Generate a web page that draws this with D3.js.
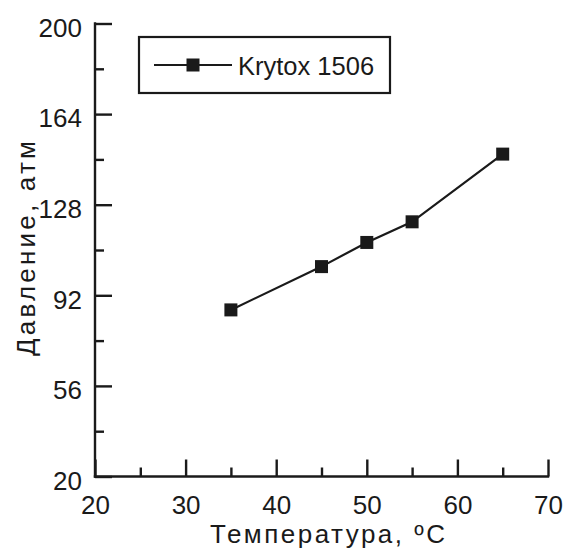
<!DOCTYPE html>
<html>
<head>
<meta charset="utf-8">
<script src="https://cdn.jsdelivr.net/npm/d3@7"></script>
<style>
  html, body { margin: 0; padding: 0; background: #fff; }
  svg { display: block; }
  text { font-family: "Liberation Sans", Arial, sans-serif; fill: #1a1a1a; }
</style>
</head>
<body>
<svg id="chart" width="566" height="549"></svg>
<script>
// Vapour pressure of Krytox 1506 versus temperature
const temperatures = [35, 45, 50, 55, 65];
const pressures = [86.2, 103.4, 113.0, 121.2, 148.1];
const seriesName = "Krytox 1506";

const xMajorTicks = [20, 30, 40, 50, 60, 70];
const xMinorTicks = [25, 35, 45, 55, 65];
const yMajorTicks = [20, 56, 92, 128, 164, 200];
const yMinorTicks = [38, 74, 110, 146, 182];

const xTitle = "Температура, ºC";
const yTitle = "Давление, атм";

const svg = d3.select("#chart");
const margin = { left: 95, right: 18, top: 23.5, bottom: 72.5 };
const W = 566, H = 549;

const x = d3.scaleLinear().domain([20, 70]).range([margin.left, W - margin.right]);
const y = d3.scaleLinear().domain([20, 200]).range([H - margin.bottom, margin.top]);

const ink = "#1a1a1a";
const majorLen = 17, minorLen = 9, axisWidth = 2.4;

// x axis: ticks point into the plot
const xAxis = svg.append("g").attr("transform", `translate(0,${y(20)})`);
xAxis.call(d3.axisBottom(x).tickValues(xMajorTicks).tickSize(-majorLen).tickSizeOuter(0).tickPadding(19));
xAxis.append("g").call(d3.axisBottom(x).tickValues(xMinorTicks).tickSize(-minorLen).tickFormat(""));
xAxis.selectAll("path.domain").remove();
xAxis.selectAll("line").attr("stroke", ink).attr("stroke-width", axisWidth);
xAxis.selectAll("text").attr("font-size", 26).attr("fill", ink);
xAxis.append("line").attr("x1", x(20) - 1.2).attr("x2", x(70) + 1.2)
  .attr("stroke", ink).attr("stroke-width", axisWidth);

// y axis
const yAxis = svg.append("g").attr("transform", `translate(${x(20)},0)`);
yAxis.call(d3.axisLeft(y).tickValues(yMajorTicks).tickSize(-majorLen).tickSizeOuter(0).tickPadding(13));
yAxis.append("g").call(d3.axisLeft(y).tickValues(yMinorTicks).tickSize(-minorLen).tickFormat(""));
yAxis.selectAll("path.domain").remove();
yAxis.selectAll("line").attr("stroke", ink).attr("stroke-width", axisWidth);
yAxis.selectAll("text").attr("font-size", 26).attr("fill", ink).attr("dy", "0.49em");
yAxis.append("line").attr("y1", y(20) + 1.2).attr("y2", y(200) - 1.2)
  .attr("stroke", ink).attr("stroke-width", axisWidth);

// axis titles
svg.append("text")
  .attr("x", 327.5).attr("y", 543)
  .attr("text-anchor", "middle").attr("font-size", 26)
  .attr("textLength", 235).attr("lengthAdjust", "spacing")
  .text(xTitle);
svg.append("text")
  .attr("transform", `translate(35,248.5) rotate(-90)`)
  .attr("text-anchor", "middle").attr("font-size", 26)
  .attr("textLength", 215).attr("lengthAdjust", "spacing")
  .text(yTitle);

// data line and square markers
const data = temperatures.map((t, i) => ({ t, p: pressures[i] }));
svg.append("path")
  .datum(data)
  .attr("fill", "none").attr("stroke", ink).attr("stroke-width", 2.2)
  .attr("d", d3.line().x(d => x(d.t)).y(d => y(d.p)));
const ms = 13;
svg.selectAll("rect.pt").data(data).join("rect")
  .attr("class", "pt")
  .attr("x", d => x(d.t) - ms / 2).attr("y", d => y(d.p) - ms / 2)
  .attr("width", ms).attr("height", ms)
  .attr("fill", ink);

// legend
const lg = svg.append("g");
lg.append("rect").attr("x", 139).attr("y", 37).attr("width", 251).attr("height", 56)
  .attr("fill", "#fff").attr("stroke", ink).attr("stroke-width", 2.2);
lg.append("line").attr("x1", 154).attr("x2", 232).attr("y1", 65).attr("y2", 65)
  .attr("stroke", ink).attr("stroke-width", 2);
lg.append("rect").attr("x", 193 - ms / 2).attr("y", 65 - ms / 2).attr("width", ms).attr("height", ms)
  .attr("fill", ink);
lg.append("text").attr("x", 238).attr("y", 75).attr("font-size", 25.5).text(seriesName);
</script>
</body>
</html>
